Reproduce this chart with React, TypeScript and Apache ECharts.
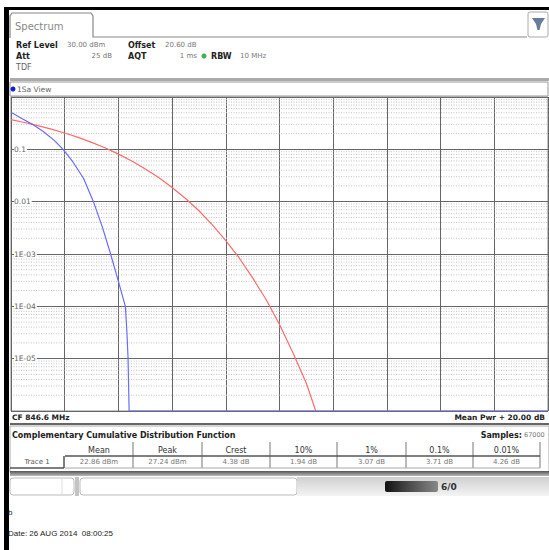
import React, { useEffect, useRef } from "react";
import * as echarts from "echarts";

// ---- data ----
const xMin = 0;
const xMax = 20;
const xStep = 2;
const yMin = 1e-6;
const yMax = 1;
// label per decade index (index = -log10(value))
const yTickLabels = ["", "0.1", "0.01", "1E-03", "1E-04", "1E-05", ""];

// Trace 1 (blue) CCDF: power above mean (dB) -> probability
const traceX = [0, 0.4, 0.8, 1.2, 1.6, 1.94, 2.3, 2.7, 3.07, 3.4, 3.71, 4.0, 4.26, 4.32, 4.36, 4.38, 4.4, 20];
const traceP = [0.51, 0.39, 0.3, 0.22, 0.15, 0.1, 0.058, 0.028, 0.01, 0.0033, 0.001, 0.0003, 0.0001, 3e-5, 1e-5, 3e-6, 1e-6, 1e-6];

// Reference (red) curve
const refX = [0, 0.5, 1, 1.5, 2, 2.5, 3, 3.5, 4, 4.5, 5, 5.5, 6, 6.5, 7, 7.5, 8, 8.5, 9, 9.5, 10, 10.5, 11, 11.35];
const refP = [0.37, 0.326, 0.284, 0.243, 0.205, 0.169, 0.136, 0.107, 0.081, 0.06, 0.042, 0.029, 0.0187, 0.0115, 0.0067, 0.0036, 0.0018, 0.00084, 0.00035, 0.000135, 0.000045, 0.000013, 0.0000034, 0.000001];

const minorMultipliers = [2, 3, 4, 5, 6, 7, 8, 9];
const decadeExps = [-6, -5, -4, -3, -2, -1];

const tableHeaders = ["Mean", "Peak", "Crest", "10%", "1%", "0.1%", "0.01%"];
const tableValues = ["22.86 dBm", "27.24 dBm", "4.38 dB", "1.94 dB", "3.07 dB", "3.71 dB", "4.26 dB"];
const tableColEdges = [65, 133, 202, 270, 337, 406, 473, 540];

const FONT = "DejaVu Sans";

function txt(text: string, x: number, y: number, o: any = {}) {
  return {
    type: "text",
    x,
    y,
    z: 10,
    silent: true,
    style: {
      text,
      font: `${o.bold ? "bold " : ""}${o.size || 8}px ${o.family || FONT}`,
      fill: o.color || "#222",
      textAlign: o.align || "left",
      textVerticalAlign: "middle",
    },
  };
}

function rect(x: number, y: number, w: number, h: number, style: any, r = 0, z = 5) {
  return { type: "rect", z, silent: true, shape: { x, y, width: w, height: h, r }, style };
}

function line(x1: number, y1: number, x2: number, y2: number, stroke: string, lineWidth = 1, z = 6) {
  return { type: "line", z, silent: true, shape: { x1, y1, x2, y2 }, style: { stroke, lineWidth } };
}

export default function App() {
  const ref = useRef<HTMLDivElement>(null);
  useEffect(() => {
    document.body.style.margin = "0";
    const chart = echarts.init(ref.current!, null, { renderer: "svg" });

    // minor log grid lines (2..9 x 10^e), drawn as dotted horizontal segments
    const minorSeries: any[] = [];
    decadeExps.forEach((e) => {
      minorMultipliers.forEach((m) => {
        const v = m * Math.pow(10, e);
        minorSeries.push({
          type: "line",
          silent: true,
          showSymbol: false,
          data: [[xMin, v], [xMax, v]],
          lineStyle: { color: "#c4c4c4", type: [1, 1.5], width: 1 },
          z: 1,
        });
      });
    });

    const graphics: any[] = [];
    // outer frame
    graphics.push(rect(4, 7, 545, 3, { fill: "#000" }));
    graphics.push(rect(4, 7, 5, 543, { fill: "#000" }));
    // tab
    graphics.push({
      type: "polyline",
      z: 6,
      silent: true,
      shape: { points: [[10, 38], [10, 16], [12, 13], [91, 13], [93, 16], [93, 37], [527, 37]] },
      style: { stroke: "#888", lineWidth: 1.2, fill: null },
    });
    graphics.push(txt("Spectrum", 15, 26, { size: 10, color: "#888" }));
    // icon
    graphics.push(rect(528, 12, 20, 25, { fill: "#fff", stroke: "#aaa", lineWidth: 1 }, 2));
    graphics.push({
      type: "polygon",
      z: 7,
      silent: true,
      shape: { points: [[532, 18], [545, 18], [541, 24], [539.5, 30], [537.5, 30], [536, 24]] },
      style: { fill: "#6a7a9a" },
    });
    // header texts
    graphics.push(txt("Ref Level", 16, 45, { bold: true, size: 8 }));
    graphics.push(txt("30.00 dBm", 67, 45, { size: 7, color: "#777" }));
    graphics.push(txt("Offset", 128, 45, { bold: true, size: 8 }));
    graphics.push(txt("20.60 dB", 165, 45, { size: 7, color: "#777" }));
    graphics.push(txt("Att", 16, 56, { bold: true, size: 8 }));
    graphics.push(txt("25 dB", 112, 56, { size: 7, color: "#777", align: "right" }));
    graphics.push(txt("AQT", 128, 56, { bold: true, size: 8 }));
    graphics.push(txt("1 ms", 197, 56, { size: 7, color: "#777", align: "right" }));
    graphics.push({ type: "circle", z: 7, silent: true, shape: { cx: 204, cy: 56, r: 2.5 }, style: { fill: "#3cb44b" } });
    graphics.push(txt("RBW", 211, 56, { bold: true, size: 8 }));
    graphics.push(txt("10 MHz", 240, 56, { size: 7, color: "#777" }));
    graphics.push(txt("TDF", 16, 67, { size: 8, color: "#666" }));
    // separator and view bar
    graphics.push(rect(10, 78, 539, 3, { fill: "#aaa" }));
    graphics.push(rect(10, 82, 538, 14, { fill: "#fff", stroke: "#999", lineWidth: 1 }));
    graphics.push({ type: "circle", z: 7, silent: true, shape: { cx: 13, cy: 89, r: 2.5 }, style: { fill: "#1020e0" } });
    graphics.push(txt("1Sa View", 17, 89, { size: 7.5, color: "#666" }));
    // below plot
    graphics.push(txt("CF 846.6 MHz", 12, 417, { bold: true, size: 7.5 }));
    graphics.push(txt("Mean Pwr + 20.00 dB", 545, 417, { bold: true, size: 7.5, align: "right" }));
    graphics.push(rect(10, 423, 539, 2, { fill: "#666" }));
    graphics.push(rect(10, 426, 539, 46, { fill: "#fff", stroke: "#aaa", lineWidth: 1 }, 0, 4));
    graphics.push(txt("Complementary Cumulative Distribution Function", 12, 435, { bold: true, size: 8 }));
    graphics.push(txt("Samples:", 522, 435, { bold: true, size: 8, align: "right" }));
    graphics.push(txt("67000", 524, 435, { size: 6.5, color: "#777" }));
    // table
    for (let i = 0; i < tableHeaders.length; i++) {
      const cx = (tableColEdges[i] + tableColEdges[i + 1]) / 2;
      graphics.push(txt(tableHeaders[i], cx, 450, { size: 8, align: "center", color: "#333" }));
      graphics.push(txt(tableValues[i], cx, 462, { size: 7, align: "center", color: "#777" }));
    }
    for (let i = 1; i < tableColEdges.length; i++) {
      graphics.push(line(tableColEdges[i], 442, tableColEdges[i], 468, "#777", 1));
    }
    graphics.push(line(65, 456, 540, 456, "#555", 1.5));
    graphics.push(line(64, 456, 64, 468, "#555", 1.5));
    graphics.push(line(10, 468, 64, 468, "#555", 1.5));
    graphics.push(line(65, 468, 540, 468, "#aaa", 1));
    graphics.push(txt("Trace 1", 37, 462, { size: 7, align: "center", color: "#555" }));
    // thick band
    graphics.push(rect(10, 471, 539, 5, { fill: new echarts.graphic.LinearGradient(0, 0, 0, 1, [{ offset: 0, color: "#555" }, { offset: 1, color: "#bbb" }]) }));
    // status bar
    graphics.push(rect(10, 477, 539, 19, { fill: "#fff" }, 0, 3));
    graphics.push(rect(10, 478, 64, 17, { fill: "#fff", stroke: "#bbb", lineWidth: 1 }, 3));
    graphics.push(line(62, 479, 62, 494, "#ddd", 1, 7));
    graphics.push(line(76, 477, 76, 496, "#888", 1, 7));
    graphics.push(line(78, 477, 78, 496, "#888", 1, 7));
    graphics.push(rect(80, 478, 217, 17, { fill: "#fff", stroke: "#bbb", lineWidth: 1 }, 3));
    graphics.push(rect(297, 477, 252, 19, { fill: new echarts.graphic.LinearGradient(0, 0, 0, 1, [{ offset: 0, color: "#d0d0d0" }, { offset: 1, color: "#f4f4f4" }]) }));
    graphics.push(rect(385, 481, 53, 11, { fill: new echarts.graphic.LinearGradient(1, 0, 0, 0, [{ offset: 0, color: "#888" }, { offset: 0.6, color: "#444" }, { offset: 1, color: "#111" }]) }, 2, 7));
    graphics.push(txt("6/0", 441, 487, { bold: true, size: 9, color: "#333" }));
    graphics.push(txt("b", 8, 512, { size: 8, family: "Liberation Sans", color: "#222" }));
    graphics.push(txt("Date: 26 AUG 2014  08:00:25", 8, 533, { size: 8, family: "Liberation Sans", color: "#222" }));

    const option: any = {
      animation: false,
      backgroundColor: "#fff",
      grid: {
        left: 11,
        right: 1,
        top: 97,
        bottom: 139,
        show: true,
        borderColor: "#888",
        borderWidth: 1,
        backgroundColor: "#fff",
      },
      xAxis: {
        type: "value",
        min: xMin,
        max: xMax,
        interval: xStep,
        axisLine: { show: false },
        axisTick: { show: false },
        axisLabel: { show: false },
        splitLine: { show: true, lineStyle: { color: "#666", width: 1 } },
      },
      yAxis: {
        type: "log",
        logBase: 10,
        min: yMin,
        max: yMax,
        axisLine: { show: true, lineStyle: { color: "#666" } },
        axisTick: { show: false },
        splitLine: { show: true, lineStyle: { color: "#666", width: 1 } },
        axisLabel: {
          inside: true,
          margin: 3,
          fontSize: 7.5,
          fontFamily: FONT,
          color: "#666",
          backgroundColor: "#fff",
          padding: [0, 1, 0, 0],
          formatter: (v: number) => {
            const idx = Math.round(-Math.log10(v));
            return yTickLabels[idx] || "";
          },
        },
        z: 3,
      },
      graphic: graphics,
      series: [
        ...minorSeries,
        {
          type: "line",
          name: "Reference",
          data: refX.map((x, i) => [x, refP[i]]),
          showSymbol: false,
          lineStyle: { color: "#ff6b6b", width: 1.2 },
          z: 4,
        },
        {
          type: "line",
          name: "Trace 1",
          data: traceX.map((x, i) => [x, traceP[i]]),
          showSymbol: false,
          lineStyle: { color: "#6b6bff", width: 1.2 },
          z: 5,
        },
      ],
    };
    chart.setOption(option);
    return () => chart.dispose();
  }, []);
  return <div ref={ref} style={{ position: "absolute", left: 0, top: 0, width: 549, height: 550 }} />;
}
